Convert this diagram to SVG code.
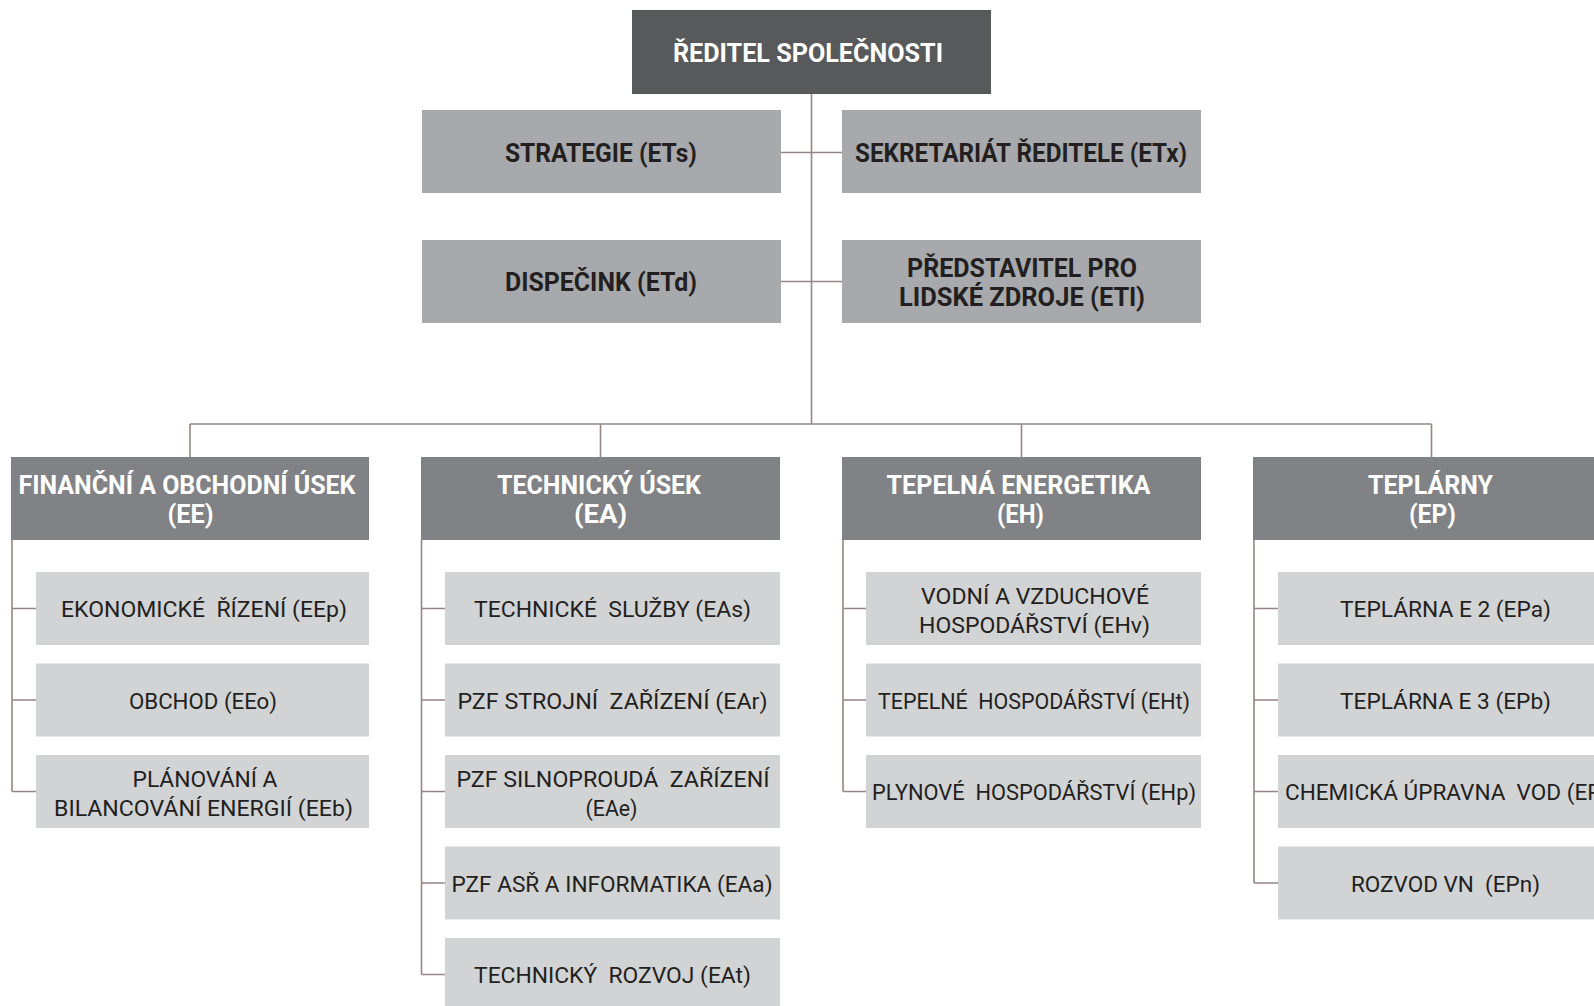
<svg xmlns="http://www.w3.org/2000/svg" width="1594" height="1006" viewBox="0 0 1594 1006">
<style>
text{font-family:Roboto,"Liberation Sans","DejaVu Sans",sans-serif;white-space:pre;text-anchor:middle}
.top{fill:#58595b}
.l2{fill:#a7a9ac}
.div{fill:#808285}
.sub{fill:#d1d3d4}
.tw{fill:#ffffff;font-weight:700;font-size:26px}
.td{fill:#231f20;font-weight:700;font-size:26px}
.ts{fill:#231f20;font-weight:400;font-size:22px}
.con{stroke:#958784;stroke-width:1.6;fill:none}
</style>
<rect width="1594" height="1006" fill="#ffffff"/>
<g id="connectors" class="con">
<path d="M811.5 93.5V424M781 152.5H842M781 281.5H842"/>
<path d="M190 424H1431.5M190 424V457.5M600.5 424V457.5M1021.5 424V457.5M1431.5 424V457.5"/>
<path d="M12 540V791.5M12 608.5H36M12 700H36M12 791.5H36"/>
<path d="M421.5 540V974.5M421.5 608.5H445M421.5 700H445M421.5 791.5H445M421.5 883H445M421.5 974.5H445"/>
<path d="M843 540V791.5M843 608.5H866M843 700H866M843 791.5H866"/>
<path d="M1254 540V883M1254 608.5H1278M1254 700H1278M1254 791.5H1278M1254 883H1278"/>
</g>
<g id="n-reditel"><rect class="top" x="632" y="10" width="359" height="84"/><text class="tw" x="808" y="61.5" textLength="270" lengthAdjust="spacingAndGlyphs">ŘEDITEL SPOLEČNOSTI</text></g>
<g id="n-ets"><rect class="l2" x="422" y="110" width="359" height="83"/><text class="td" x="601" y="161.5" textLength="192" lengthAdjust="spacingAndGlyphs">STRATEGIE (ETs)</text></g>
<g id="n-etx"><rect class="l2" x="842" y="110" width="359" height="83"/><text class="td" x="1021" y="161.5" textLength="332" lengthAdjust="spacingAndGlyphs">SEKRETARIÁT ŘEDITELE (ETx)</text></g>
<g id="n-etd"><rect class="l2" x="422" y="240" width="359" height="83"/><text class="td" x="601" y="291" textLength="192" lengthAdjust="spacingAndGlyphs">DISPEČINK (ETd)</text></g>
<g id="n-etl"><rect class="l2" x="842" y="240" width="359" height="83"/><text class="td" x="1022" y="276.5" textLength="230" lengthAdjust="spacingAndGlyphs">PŘEDSTAVITEL PRO</text><text class="td" x="1022" y="305.5" textLength="246" lengthAdjust="spacingAndGlyphs">LIDSKÉ ZDROJE (ETl)</text></g>
<g id="n-ee"><rect class="div" x="11" y="457" width="358" height="83"/><text class="tw" x="187" y="493.5" textLength="337" lengthAdjust="spacingAndGlyphs">FINANČNÍ A OBCHODNÍ ÚSEK</text><text class="tw" x="190.5" y="522.5" textLength="46" lengthAdjust="spacingAndGlyphs">(EE)</text></g>
<g id="n-ea"><rect class="div" x="421" y="457" width="359" height="83"/><text class="tw" x="599" y="493.5" textLength="204" lengthAdjust="spacingAndGlyphs">TECHNICKÝ ÚSEK</text><text class="tw" x="600.5" y="522.5" textLength="53" lengthAdjust="spacingAndGlyphs">(EA)</text></g>
<g id="n-eh"><rect class="div" x="842" y="457" width="359" height="83"/><text class="tw" x="1018.5" y="493.5" textLength="264" lengthAdjust="spacingAndGlyphs">TEPELNÁ ENERGETIKA</text><text class="tw" x="1020.5" y="522.5" textLength="47" lengthAdjust="spacingAndGlyphs">(EH)</text></g>
<g id="n-ep"><rect class="div" x="1253" y="457" width="359" height="83"/><text class="tw" x="1430.5" y="493.5" textLength="125" lengthAdjust="spacingAndGlyphs">TEPLÁRNY</text><text class="tw" x="1432.5" y="522.5" textLength="47" lengthAdjust="spacingAndGlyphs">(EP)</text></g>
<g id="n-eep"><rect class="sub" x="36" y="572" width="333" height="73"/><text class="ts" x="204" y="617" textLength="286" lengthAdjust="spacingAndGlyphs">EKONOMICKÉ  ŘÍZENÍ (EEp)</text></g>
<g id="n-eeo"><rect class="sub" x="36" y="663.5" width="333" height="73"/><text class="ts" x="203" y="708.5" textLength="148" lengthAdjust="spacingAndGlyphs">OBCHOD (EEo)</text></g>
<g id="n-eeb"><rect class="sub" x="36" y="755" width="333" height="73"/><text class="ts" x="205" y="786.5" textLength="145" lengthAdjust="spacingAndGlyphs">PLÁNOVÁNÍ A</text><text class="ts" x="203.5" y="816" textLength="299" lengthAdjust="spacingAndGlyphs">BILANCOVÁNÍ ENERGIÍ (EEb)</text></g>
<g id="n-eas"><rect class="sub" x="445" y="572" width="335" height="73"/><text class="ts" x="612.5" y="617" textLength="277" lengthAdjust="spacingAndGlyphs">TECHNICKÉ  SLUŽBY (EAs)</text></g>
<g id="n-ear"><rect class="sub" x="445" y="663.5" width="335" height="73"/><text class="ts" x="612.5" y="708.5" textLength="310" lengthAdjust="spacingAndGlyphs">PZF STROJNÍ  ZAŘÍZENÍ (EAr)</text></g>
<g id="n-eae"><rect class="sub" x="445" y="755" width="335" height="73"/><text class="ts" x="613" y="786.5" textLength="313" lengthAdjust="spacingAndGlyphs">PZF SILNOPROUDÁ  ZAŘÍZENÍ</text><text class="ts" x="611.5" y="816" textLength="52" lengthAdjust="spacingAndGlyphs">(EAe)</text></g>
<g id="n-eaa"><rect class="sub" x="445" y="846.5" width="335" height="73"/><text class="ts" x="612" y="891.5" textLength="321" lengthAdjust="spacingAndGlyphs">PZF ASŘ A INFORMATIKA (EAa)</text></g>
<g id="n-eat"><rect class="sub" x="445" y="938" width="335" height="73"/><text class="ts" x="612.5" y="983" textLength="277" lengthAdjust="spacingAndGlyphs">TECHNICKÝ  ROZVOJ (EAt)</text></g>
<g id="n-ehv"><rect class="sub" x="866" y="572" width="335" height="73"/><text class="ts" x="1035" y="603.5" textLength="228" lengthAdjust="spacingAndGlyphs">VODNÍ A VZDUCHOVÉ</text><text class="ts" x="1034.5" y="633" textLength="231" lengthAdjust="spacingAndGlyphs">HOSPODÁŘSTVÍ (EHv)</text></g>
<g id="n-eht"><rect class="sub" x="866" y="663.5" width="335" height="73"/><text class="ts" x="1034" y="708.5" textLength="312" lengthAdjust="spacingAndGlyphs">TEPELNÉ  HOSPODÁŘSTVÍ (EHt)</text></g>
<g id="n-ehp"><rect class="sub" x="866" y="755" width="335" height="73"/><text class="ts" x="1034" y="800" textLength="324" lengthAdjust="spacingAndGlyphs">PLYNOVÉ  HOSPODÁŘSTVÍ (EHp)</text></g>
<g id="n-epa"><rect class="sub" x="1278" y="572" width="335" height="73"/><text class="ts" x="1445.5" y="617" textLength="211" lengthAdjust="spacingAndGlyphs">TEPLÁRNA E 2 (EPa)</text></g>
<g id="n-epb"><rect class="sub" x="1278" y="663.5" width="335" height="73"/><text class="ts" x="1445.5" y="708.5" textLength="211" lengthAdjust="spacingAndGlyphs">TEPLÁRNA E 3 (EPb)</text></g>
<g id="n-epc"><rect class="sub" x="1278" y="755" width="335" height="73"/><text class="ts" x="1285" y="800" style="text-anchor:start" textLength="336" lengthAdjust="spacingAndGlyphs">CHEMICKÁ ÚPRAVNA  VOD (EPc)</text></g>
<g id="n-epn"><rect class="sub" x="1278" y="846.5" width="335" height="73"/><text class="ts" x="1445.5" y="891.5" textLength="189" lengthAdjust="spacingAndGlyphs">ROZVOD VN  (EPn)</text></g>
</svg>
